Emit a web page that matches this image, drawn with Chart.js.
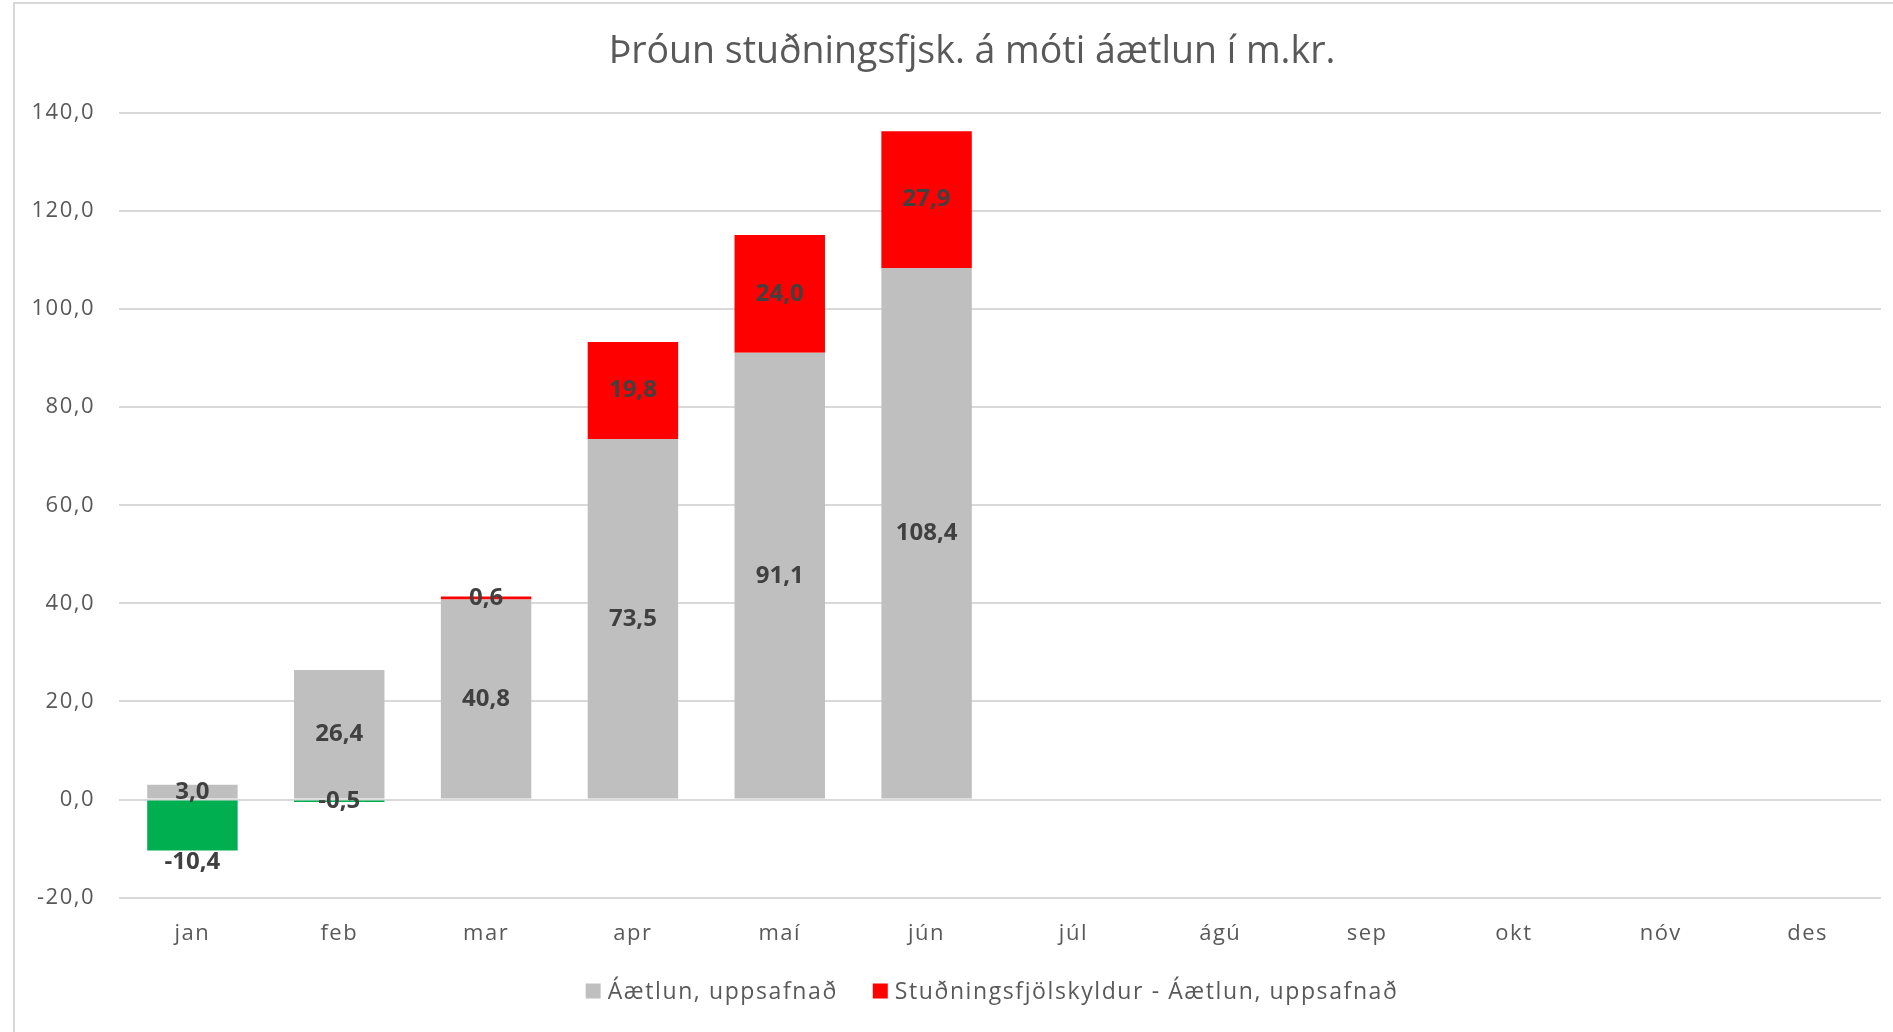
<!DOCTYPE html>
<html><head><meta charset="utf-8">
<script src="https://cdn.jsdelivr.net/npm/chart.js@4/dist/chart.umd.min.js"></script>
<style>html,body{margin:0;padding:0;background:#fff;overflow:hidden}</style>
</head><body>
<canvas id="c" width="1893" height="1032"></canvas>
<script>
const titleText = 'Þróun stuðningsfjsk. á móti áætlun í m.kr.';
const months = ['jan','feb','mar','apr','maí','jún','júl','ágú','sep','okt','nóv','des'];
const planLabel = 'Áætlun, uppsafnað';
const planValues = [3.0, 26.4, 40.8, 73.5, 91.1, 108.4, null, null, null, null, null, null];
const diffLabel = 'Stuðningsfjölskyldur - Áætlun, uppsafnað';
const diffValues = [-10.4, -0.5, 0.6, 19.8, 24.0, 27.9, null, null, null, null, null, null];
const yTickValues = [-20, 0, 20, 40, 60, 80, 100, 120, 140];

const GRAY = '#BFBFBF', RED = '#FF0000', GREEN = '#00B050';
const TEXT = '#595959', LABEL = '#404040', GRID = '#D9D9D9';
const FONT = "'Open Sans', 'DejaVu Sans', sans-serif";
const fmt = v => v.toFixed(1).replace('.', ',');
const legendItems = [
  { text: planLabel, color: GRAY },
  { text: diffLabel, color: RED }
];

const spacingPlugin = {
  id: 'spacing',
  beforeUpdate(chart) { chart.ctx.letterSpacing = '1.5px'; },
  beforeDraw(chart) {
    const ctx = chart.ctx;
    ctx.save();
    ctx.strokeStyle = GRID; ctx.lineWidth = 2;
    ctx.beginPath();
    ctx.moveTo(14, chart.height + 5); ctx.lineTo(14, 3); ctx.lineTo(chart.width + 5, 3);
    ctx.stroke();
    ctx.restore();
    ctx.letterSpacing = '1.5px';
  }
};

const titlePlugin = {
  id: 'ctitle',
  afterDraw(chart) {
    const ctx = chart.ctx;
    ctx.save();
    ctx.letterSpacing = '0px';
    ctx.font = "37.5px " + FONT;
    ctx.fillStyle = TEXT;
    ctx.textAlign = 'center';
    ctx.textBaseline = 'middle';
    ctx.fillText(titleText, 972, 52);
    ctx.restore();
  }
};

const legendPlugin = {
  id: 'clegend',
  afterDraw(chart) {
    const ctx = chart.ctx;
    ctx.save();
    ctx.letterSpacing = '1.6px';
    ctx.font = "23px " + FONT;
    ctx.textBaseline = 'middle';
    ctx.textAlign = 'left';
    const box = 15, gapBox = 7, gapItem = 35;
    const widths = legendItems.map(it => box + gapBox + ctx.measureText(it.text).width);
    const total = widths.reduce((a, b) => a + b, 0) + gapItem * (legendItems.length - 1);
    const a = chart.chartArea;
    let x = (a.left + a.right) / 2 - 8 - total / 2;
    const y = 991;
    legendItems.forEach((it, i) => {
      ctx.fillStyle = it.color;
      ctx.fillRect(x, y - box / 2, box, box);
      ctx.fillStyle = TEXT;
      ctx.fillText(it.text, x + box + gapBox, y + 1);
      x += widths[i] + gapItem;
    });
    ctx.restore();
  }
};

const labelPlugin = {
  id: 'vlabels',
  afterDatasetsDraw(chart) {
    const ctx = chart.ctx;
    ctx.save();
    ctx.letterSpacing = '0px';
    ctx.font = "bold 24px " + FONT;
    ctx.fillStyle = LABEL;
    ctx.textAlign = 'center';
    ctx.textBaseline = 'middle';
    chart.data.datasets.forEach((ds, di) => {
      const meta = chart.getDatasetMeta(di);
      meta.data.forEach((el, i) => {
        const v = ds.data[i];
        if (v === null || v === undefined) return;
        const top = Math.min(el.y, el.base), bot = Math.max(el.y, el.base);
        let y = (top + bot) / 2;
        if (v < 0 && (bot - top) > 24) y = bot + 12;
        ctx.fillText(fmt(v), el.x, y);
      });
    });
    ctx.restore();
  }
};

new Chart(document.getElementById('c'), {
  type: 'bar',
  data: {
    labels: months,
    datasets: [
      { label: planLabel, data: planValues, backgroundColor: GRAY, stack: 's' },
      { label: diffLabel, data: diffValues, stack: 's',
        backgroundColor: ctx => (ctx.raw !== null && ctx.raw < 0) ? GREEN : RED }
    ]
  },
  options: {
    responsive: false,
    animation: false,
    devicePixelRatio: 1,
    layout: { padding: { top: 113, left: 14, right: 12, bottom: 62 } },
    datasets: { bar: { barPercentage: 0.616, categoryPercentage: 1.0 } },
    scales: {
      x: {
        stacked: true,
        grid: { display: false, drawTicks: false },
        border: { display: false },
        ticks: { color: TEXT, font: { family: FONT, size: 22 }, padding: 23 }
      },
      y: {
        stacked: true,
        min: -20, max: 140,
        afterBuildTicks: s => { s.ticks = yTickValues.map(v => ({ value: v })); },
        afterFit: s => { s.width = 105; },
        grid: { color: GRID, lineWidth: 2, drawTicks: false },
        border: { display: false },
        ticks: { color: TEXT, font: { family: FONT, size: 22 }, padding: 24, callback: v => fmt(v) }
      }
    },
    plugins: {
      title: { display: false },
      tooltip: { enabled: false },
      legend: { display: false }
    }
  },
  plugins: [spacingPlugin, titlePlugin, labelPlugin, legendPlugin]
});
</script>
</body></html>
